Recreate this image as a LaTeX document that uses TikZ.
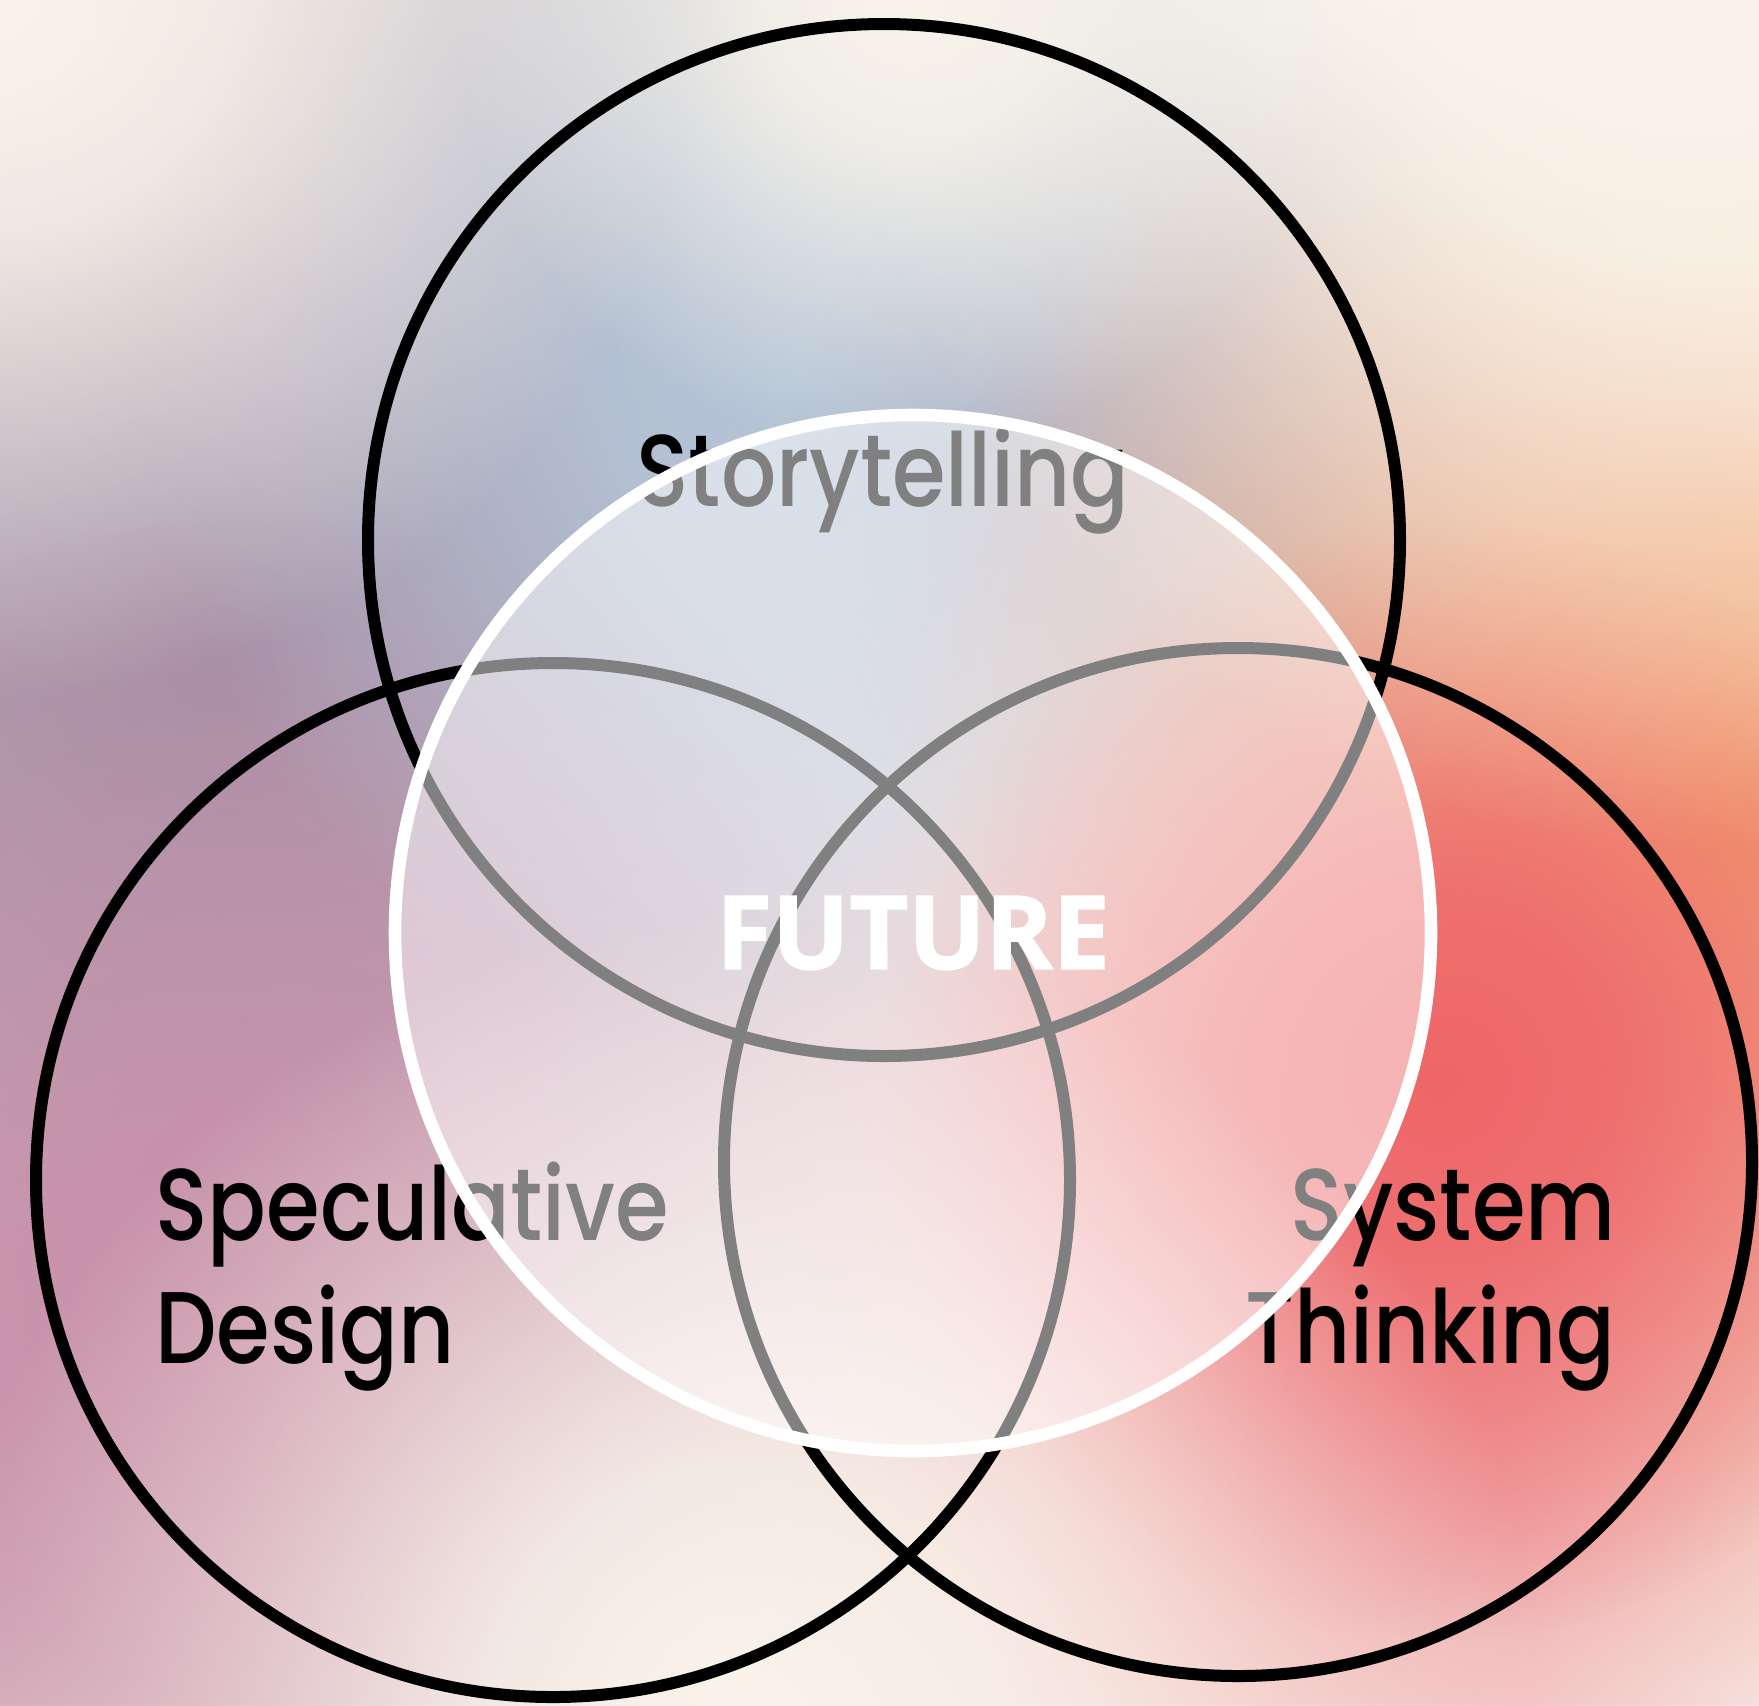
\documentclass[tikz,border=0pt]{standalone}
\usepackage{fontspec}
\usetikzlibrary{fadings}
\newfontfamily\labfont{Poppins}[UprightFont={* Medium}, FakeStretch=0.85]
\newfontfamily\bigfont{Open Sans}[BoldFeatures={FakeBold=1.5}]
\definecolor{cream}{HTML}{F9F4EB}
\definecolor{mauve}{HTML}{A28FA6}
\definecolor{pinkm}{HTML}{C98FA8}
\definecolor{bluegr}{HTML}{B3C5D8}
\definecolor{orng}{HTML}{F2A06C}
\definecolor{coral}{HTML}{EE6668}
\definecolor{pinklt}{HTML}{EFA0A5}
\pgfdeclareradialshading{blobshade}{\pgfpointorigin}{color(0bp)=(pgftransparent!0); color(8bp)=(pgftransparent!15); color(16bp)=(pgftransparent!55); color(25bp)=(pgftransparent!100); color(50bp)=(pgftransparent!100)}
\pgfdeclarefading{blob}{\pgfuseshading{blobshade}}
\tikzset{
  ring/.style={draw=black, line width=6pt},
  lab/.style={inner sep=0pt, font=\labfont\fontsize{51}{54}\selectfont, text=black},
  glow/.style={path fading=blob, fit fading=true},
}
\begin{document}
\begin{tikzpicture}[x=0.5pt,y=-0.5pt]
\useasboundingbox (0,0) rectangle (1759,1705);
% background
\fill[cream] (0,0) rectangle (1759,1705);
\fill[mauve, glow] (220,660) circle (1200);
\fill[pinkm, glow] (250,1420) circle (900);
\fill[bluegr, glow] (840,360) circle (700);
\fill[mauve, glow, opacity=0.5] (1280,520) circle (500);
\fill[orng, glow] (1760,800) circle (880);
\fill[pinklt, glow] (1300,1380) circle (700);
\fill[coral, glow] (1440,1080) circle (560);
\fill[cream, glow] (740,1720) circle (800);
\fill[cream, glow] (0,0) circle (700);
\fill[cream, glow] (1700,0) circle (850);
\fill[cream, glow] (900,0) circle (450);
% circles
\coordinate (cTop) at (884,540);
\coordinate (cLeft) at (553,1180);
\coordinate (cRight) at (1238,1162);
\coordinate (cFut) at (913,933);
\draw[ring] (cTop) circle (516);
\draw[ring] (cLeft) circle (517);
\draw[ring] (cRight) circle (514);
% labels
\node[lab, anchor=base] (story) at (883,506) {Storytelling};
\node[lab, anchor=base west] (specA) at (155,1240) {Speculative};
\node[lab, anchor=base west] (specB) at (155,1363) {Design};
\node[lab, anchor=base east] (sysA) at (1616,1240) {System};
\node[lab, anchor=base east] (sysB) at (1616,1363) {Thinking};
% white circle
\fill[white, fill opacity=0.5] (cFut) circle (518);
\draw[white, line width=6.3pt] (cFut) circle (518);
\node[inner sep=0pt, text=white, font=\bigfont\bfseries\fontsize{51}{54}\selectfont] (future) at (cFut) {FUTURE};
\end{tikzpicture}
\end{document}
